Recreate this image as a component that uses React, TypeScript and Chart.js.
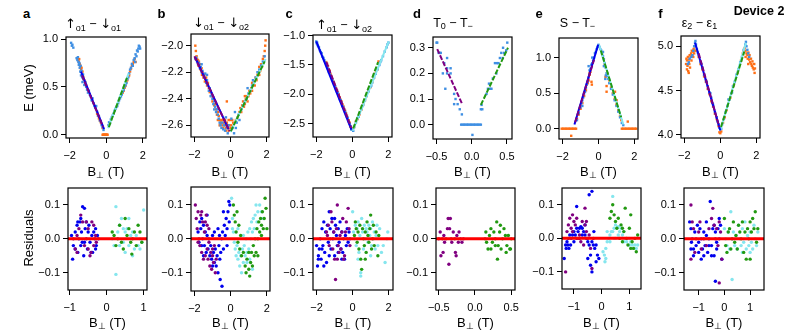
import React, { useEffect, useRef } from "react";
import { Chart, registerables } from "chart.js";
Chart.register(...registerables);

type Pt = [number, number];
const FONT = '"Liberation Sans", Arial, Helvetica, sans-serif';

// ---------- colours ----------
const COL_BLUEPT = "#3f8fe3";
const COL_ORANGE = "#ff6f15";
const COL_BLUE = "#0000ee";
const COL_PURPLE = "#800080";
const COL_GREEN = "#229911";
const COL_CYAN = "#85e6ee";
const COL_RED = "#ff0000";

// ---------- tick values ----------
const ticksBig = [-2, 0, 2];
const ticksHalf = [-0.5, 0, 0.5];
const ticksOne = [-1, 0, 1];
const ticksA_y = [0, 0.5, 1.0];
const ticksB_y = [-2.6, -2.4, -2.2, -2.0];
const ticksC_y = [-2.5, -2.0, -1.5, -1.0];
const ticksD_y = [0, 0.1, 0.2, 0.3];
const ticksE_y = [0, 0.5, 1.0];
const ticksF_y = [4.0, 4.5, 5.0];
const ticksRes_y = [-0.1, 0, 0.1];

// ---------- panel a (top) ----------
const aBlue: Pt[] = [[-1.92,0.96],[-1.88,0.93],[-1.85,0.94],[-1.8,0.91],[-1.62,0.8],[-1.58,0.78],[-1.55,0.81],[-1.52,0.76],[-1.5,0.73],[-1.47,0.75],[-1.45,0.7],[-1.42,0.66],[-1.4,0.72],[-1.38,0.62],[-1.35,0.67],[-1.32,0.6],[-1.3,0.55],[-1.27,0.63],[-1.25,0.58],[-1.2,0.52],[-1.15,0.55],[-1.1,0.5],[-1.05,0.47],[-1.0,0.44],[-0.95,0.46],[-0.9,0.42],[-0.85,0.4],[-0.8,0.36],[-0.75,0.38],[-0.7,0.33],[-0.65,0.3],[-0.6,0.28],[-0.55,0.3],[-0.5,0.24],[-0.45,0.2],[-0.4,0.19],[-0.35,0.15],[-0.3,0.14],[-0.25,0.1],[-0.2,0.08],[-0.15,0.05],[0.12,0.1],[0.15,0.13],[0.2,0.12],[0.25,0.16],[0.3,0.18],[0.35,0.2],[0.4,0.22],[0.45,0.25],[0.5,0.27],[0.55,0.29],[0.6,0.3],[0.65,0.33],[0.7,0.36],[0.75,0.38],[0.8,0.4],[0.85,0.42],[0.9,0.45],[0.95,0.47],[1.0,0.5],[1.05,0.52],[1.1,0.54],[1.15,0.58],[1.2,0.6],[1.25,0.64],[1.3,0.68],[1.35,0.7],[1.4,0.74],[1.45,0.72],[1.5,0.78],[1.55,0.8],[1.58,0.76],[1.6,0.84],[1.65,0.82],[1.68,0.88],[1.72,0.87],[1.75,0.9],[1.78,0.93],[1.82,0.92],[1.85,0.9]];
const aOrange: Pt[] = [[-1.55,0.8],[-1.52,0.78],[-1.5,0.76],[-1.48,0.79],[-1.45,0.74],[-1.42,0.72],[-1.4,0.7],[-1.38,0.68],[-1.35,0.7],[-1.3,0.66],[-1.28,0.62],[-1.25,0.6],[-1.2,0.57],[-1.15,0.55],[-1.1,0.52],[-0.5,0.22],[-0.45,0.2],[-0.4,0.17],[-0.35,0.15],[-0.3,0.13],[-0.25,0.11],[-0.2,0.07],[-0.2,0],[-0.17,0],[-0.14,0],[-0.11,0],[-0.08,0],[-0.05,0],[-0.02,0],[0.01,0],[0.04,0],[0.07,0],[0.9,0.44],[0.95,0.46],[1.0,0.49],[1.05,0.51],[1.1,0.55],[1.15,0.57],[1.2,0.61],[1.25,0.62],[1.3,0.66],[1.35,0.69],[1.4,0.72],[1.45,0.74],[1.5,0.76],[1.55,0.79],[1.6,0.76]];
const aFitBlue: Pt[] = [[-1.38,0.66],[-0.12,0.06]];
const aFitPurple: Pt[] = [[-1.33,0.62],[-0.17,0.08]];
const aFitCyan: Pt[] = [[0.1,0.07],[1.22,0.64]];
const aFitGreen: Pt[] = [[0.14,0.08],[1.16,0.61]];

// ---------- panel b (top) ----------
const bBlue: Pt[] = [[-1.95,-2.1],[-1.9,-2.09],[-1.85,-2.12],[-1.8,-2.14],[-1.75,-2.13],[-1.7,-2.17],[-1.65,-2.16],[-1.6,-2.2],[-1.55,-2.19],[-1.5,-2.22],[-1.45,-2.24],[-1.4,-2.21],[-1.35,-2.28],[-1.3,-2.26],[-1.25,-2.3],[-1.2,-2.34],[-1.15,-2.32],[-1.1,-2.38],[-1.05,-2.36],[-1.0,-2.4],[-0.95,-2.44],[-0.9,-2.42],[-0.85,-2.46],[-0.8,-2.5],[-0.75,-2.48],[-0.7,-2.52],[-0.65,-2.55],[-0.6,-2.58],[-0.55,-2.6],[-0.5,-2.62],[-0.45,-2.58],[-0.4,-2.63],[-0.35,-2.6],[-0.3,-2.64],[-0.2,-2.62],[-0.1,-2.6],[0.05,-2.55],[0.25,-2.5],[0.35,-2.58],[0.45,-2.52],[0.5,-2.56],[0.2,-2.66],[0.3,-2.62],[0.6,-2.48],[0.7,-2.45],[0.8,-2.42],[0.9,-2.4],[1.0,-2.36],[1.1,-2.34],[1.2,-2.3],[1.3,-2.28],[1.4,-2.24],[1.5,-2.2],[1.6,-2.18],[1.7,-2.15],[1.8,-2.12],[1.9,-2.08],[0.95,-2.32],[1.25,-2.26],[-1.3,-2.22],[-0.9,-2.48],[-1.6,-2.14],[-0.15,-2.66],[0.12,-2.62],[-0.25,-2.54]];
const bOrange: Pt[] = [[-1.95,-2.0],[-1.92,-2.04],[-1.88,-2.08],[-1.85,-2.1],[-1.8,-2.11],[-1.78,-2.15],[-1.75,-2.12],[-1.7,-2.14],[-1.65,-2.18],[-1.6,-2.17],[-1.58,-2.22],[-1.55,-2.2],[-1.5,-2.24],[-1.45,-2.22],[-1.42,-2.27],[-1.4,-2.25],[-1.35,-2.24],[-1.3,-2.3],[-1.25,-2.28],[-1.2,-2.32],[-1.15,-2.35],[-1.1,-2.34],[-1.05,-2.38],[-1.0,-2.42],[-0.95,-2.4],[-0.9,-2.45],[-0.85,-2.44],[-0.8,-2.48],[-0.75,-2.52],[-0.7,-2.5],[-0.65,-2.53],[-0.6,-2.56],[-0.55,-2.58],[-0.5,-2.56],[-0.45,-2.6],[-0.4,-2.62],[-0.35,-2.58],[-0.3,-2.6],[-0.25,-2.62],[-0.2,-2.42],[-0.7,-2.56],[-0.6,-2.6],[-0.5,-2.58],[-0.4,-2.56],[-0.3,-2.56],[-0.2,-2.58],[-0.1,-2.56],[0,-2.56],[0.1,-2.56],[-0.15,-2.6],[-0.05,-2.6],[0.05,-2.6],[0.15,-2.58],[-0.25,-2.64],[-0.1,-2.64],[0,-2.62],[0.3,-2.56],[0.4,-2.54],[0.5,-2.5],[0.55,-2.47],[0.6,-2.5],[0.65,-2.45],[0.7,-2.42],[0.75,-2.46],[0.8,-2.44],[0.85,-2.4],[0.9,-2.38],[0.95,-2.42],[1.0,-2.38],[1.05,-2.34],[1.1,-2.36],[1.15,-2.32],[1.2,-2.34],[1.25,-2.3],[1.3,-2.27],[1.35,-2.3],[1.4,-2.24],[1.45,-2.26],[1.5,-2.22],[1.55,-2.2],[1.6,-2.16],[1.65,-2.19],[1.7,-2.14],[1.75,-2.16],[1.8,-2.1],[1.85,-2.08],[1.9,-2.04],[1.93,-2.0],[1.95,-1.96],[1.6,-2.22],[1.2,-2.28],[0.8,-2.38]];
const bFitBlue: Pt[] = [[-1.95,-2.09],[-0.1,-2.63]];
const bFitPurple: Pt[] = [[-2.0,-2.08],[-0.05,-2.645]];
const bFitCyan: Pt[] = [[0.0,-2.65],[1.95,-2.1]];
const bFitGreen: Pt[] = [[0.02,-2.645],[1.9,-2.118]];

// ---------- panel c (top) ----------
const cBlue: Pt[] = [[-2.0,-1.1],[-1.98,-1.13],[-1.95,-1.12],[-1.92,-1.16],[-1.9,-1.18],[-1.85,-1.2],[-1.8,-1.25],[-1.75,-1.28],[-1.7,-1.3],[-1.65,-1.36],[-1.6,-1.38],[-1.55,-1.42],[-1.5,-1.46],[-1.45,-1.5],[-1.4,-1.52],[-1.35,-1.56],[-1.3,-1.62],[-1.25,-1.63],[-1.2,-1.68],[-1.15,-1.72],[-1.1,-1.76],[-1.05,-1.8],[-1.0,-1.84],[-0.95,-1.86],[-0.9,-1.92],[-0.85,-1.95],[-0.8,-1.98],[-0.75,-2.02],[-0.7,-2.08],[-0.65,-2.1],[-0.6,-2.14],[-0.55,-2.2],[-0.5,-2.22],[-0.45,-2.26],[-0.4,-2.3],[-0.35,-2.34],[-0.3,-2.38],[-0.25,-2.4],[-0.2,-2.46],[-0.15,-2.5],[-0.1,-2.54],[-0.05,-2.6],[0.05,-2.62],[0.1,-2.55],[0.2,-2.48],[0.3,-2.4],[0.4,-2.32],[0.5,-2.25],[0.6,-2.18],[0.7,-2.1],[0.8,-2.02],[0.9,-1.95],[1.0,-1.87],[1.1,-1.8],[1.2,-1.72],[1.3,-1.65],[1.4,-1.57],[1.5,-1.5],[1.6,-1.42],[1.7,-1.35],[1.8,-1.27],[1.9,-1.2],[1.95,-1.15],[2.0,-1.12],[0.35,-2.38],[0.55,-2.2],[1.05,-1.85],[1.55,-1.45]];
const cOrange: Pt[] = [[-1.45,-1.45],[-1.42,-1.5],[-1.4,-1.48],[-1.38,-1.54],[-1.35,-1.52],[-1.3,-1.6],[-1.25,-1.6],[-1.2,-1.66],[-1.15,-1.7],[-1.1,-1.75],[-1.05,-1.78],[-1.0,-1.82],[-0.95,-1.88],[-0.9,-1.9],[-0.85,-1.93],[-0.8,-1.97],[-0.75,-2.0],[-0.7,-2.05],[-0.65,-2.09],[-0.6,-2.12],[-0.55,-2.17],[-0.5,-2.2],[-0.45,-2.25],[-0.4,-2.28],[-0.35,-2.32],[-0.3,-2.36],[-0.25,-2.4],[-0.2,-2.44],[-0.15,-2.48],[-0.1,-2.55],[-0.05,-2.58],[0.1,-2.56],[0.2,-2.46],[0.3,-2.42],[0.4,-2.34],[0.5,-2.26],[0.6,-2.17],[0.7,-2.1],[0.8,-2.03],[0.9,-1.94],[1.0,-1.88],[1.1,-1.79],[1.2,-1.72],[1.3,-1.63],[1.38,-1.58],[1.45,-1.44]];
const cFitBlue: Pt[] = [[-2.0,-1.1],[-0.05,-2.6]];
const cFitPurple: Pt[] = [[-1.44,-1.45],[-0.06,-2.57]];
const cFitCyan: Pt[] = [[0.02,-2.62],[2.02,-1.1]];
const cFitGreen: Pt[] = [[0.05,-2.58],[1.43,-1.45]];

// ---------- panel d (top) ----------
const dBlue: Pt[] = [[-0.5,0.32],[-0.49,0.32],[-0.47,0.28],[-0.455,0.28],[-0.44,0.28],[-0.39,0.24],[-0.35,0.26],[-0.35,0.22],[-0.3,0.22],[-0.41,0.2],[-0.35,0.2],[-0.3,0.2],[-0.375,0.14],[-0.25,0.12],[-0.23,0.1],[-0.25,0.08],[-0.2,0.08],[-0.17,0.06],[-0.14,0.04],[-0.15,0],[-0.13,0],[-0.11,0],[-0.09,0],[-0.07,0],[-0.05,0],[-0.03,0],[-0.01,0],[0.01,0],[0.03,0],[0.05,0],[0.07,0],[0.09,0],[0.11,0],[0.13,0],[0.01,-0.04],[0.14,0.077],[0.13,0.06],[0.15,0.06],[0.21,0.12],[0.23,0.14],[0.26,0.14],[0.28,0.14],[0.245,0.16],[0.3,0.18],[0.35,0.2],[0.33,0.24],[0.36,0.24],[0.38,0.24],[0.4,0.26],[0.44,0.26],[0.42,0.28],[0.46,0.28],[0.445,0.3],[0.505,0.32],[0.49,0.29]];
const dFitPurple: Pt[] = [[-0.49,0.295],[-0.14,0.083]];
const dFitGreen: Pt[] = [[0.13,0.077],[0.515,0.3]];

// ---------- panel e (top) ----------
const eBlue: Pt[] = [[-1.2,0.12],[-1.1,0.22],[-1.0,0.3],[-0.95,0.36],[-0.9,0.4],[-0.85,0.44],[-0.8,0.5],[-0.75,0.52],[-0.7,0.58],[-0.65,0.62],[-0.6,0.66],[-0.55,0.72],[-0.5,0.82],[-0.45,0.84],[-0.4,0.9],[-0.35,0.92],[-0.3,0.96],[-0.25,1.0],[-0.2,1.06],[-0.15,1.08],[-0.1,1.12],[-0.05,1.15],[0.0,1.18],[-0.55,0.88],[-0.35,1.0],[-0.9,0.32],[0.05,1.15],[0.1,1.12],[0.15,1.1],[0.2,1.05],[0.25,1.02],[0.3,0.98],[0.3,0.88],[0.35,0.92],[0.4,0.86],[0.41,0.75],[0.38,0.7],[0.45,0.78],[0.5,0.74],[0.55,0.7],[0.6,0.64],[0.7,0.56],[0.8,0.48],[0.9,0.4],[1.0,0.32],[1.1,0.24],[1.2,0.16],[1.3,0.08],[1.38,0.05],[0.25,1.08]];
const eOrange: Pt[] = [[-2.05,0],[-1.97,0],[-1.89,0],[-1.81,0],[-1.73,0],[-1.65,0],[-1.57,0],[-1.49,0],[-1.41,0],[-1.33,0],[-1.25,0],[1.3,0],[1.38,0],[1.46,0],[1.54,0],[1.62,0],[1.7,0],[1.78,0],[1.86,0],[1.94,0],[2.02,0],[2.1,0],[-1.52,-0.1],[-0.49,0.76],[-0.39,0.66],[-0.37,0.62],[0.45,0.6],[0.45,0.52],[0.39,0.73],[1.63,0.1],[0.92,0.52],[1.01,0.4],[-1.2,0.14],[-1.1,0.2],[-1.0,0.28],[-0.9,0.36],[-0.8,0.46],[-0.7,0.54],[-0.6,0.64],[-0.55,0.68],[-0.5,0.78],[-0.45,0.8],[0.35,0.9],[0.5,0.78],[0.6,0.68],[0.7,0.58],[0.8,0.5],[0.9,0.42],[1.0,0.34],[1.1,0.26],[1.2,0.18],[1.27,0.12]];
const eFitBlue: Pt[] = [[-1.34,0.06],[-0.02,1.18]];
const eFitPurple: Pt[] = [[-1.3,0.09],[-0.25,0.97]];
const eFitCyan: Pt[] = [[0.03,1.18],[1.38,0.06]];
const eFitGreen: Pt[] = [[0.13,1.1],[1.26,0.16]];

// ---------- panel f (top) ----------
const fBlue: Pt[] = [[-1.45,5.0],[-1.4,5.04],[-1.38,5.06],[-1.35,5.02],[-1.5,4.95],[-1.55,4.9],[-1.6,4.88],[-1.7,4.86],[-1.75,4.82],[-1.8,4.8],[-1.3,4.97],[-1.25,4.93],[-1.2,4.9],[-1.1,4.82],[-1.0,4.76],[-0.9,4.68],[-0.8,4.62],[-0.7,4.55],[-0.6,4.48],[-0.5,4.42],[-0.45,4.36],[-0.4,4.34],[-0.3,4.26],[-0.2,4.2],[-0.15,4.15],[-0.1,4.12],[-0.05,4.08],[-0.75,4.6],[-0.55,4.47],[-1.05,4.8],[0.05,4.07],[0.1,4.12],[0.2,4.18],[0.3,4.26],[0.4,4.33],[0.5,4.4],[0.6,4.47],[0.7,4.55],[0.8,4.6],[0.9,4.68],[1.0,4.74],[1.1,4.82],[1.2,4.88],[1.3,4.96],[1.38,5.02],[1.42,5.05],[1.45,5.0],[1.5,4.96],[1.55,4.92],[1.6,4.88],[0.45,4.4],[0.65,4.48]];
const fOrange: Pt[] = [[-1.9,4.8],[-1.88,4.86],[-1.85,4.84],[-1.82,4.78],[-1.8,4.88],[-1.78,4.72],[-1.75,4.85],[-1.72,4.8],[-1.7,4.9],[-1.68,4.76],[-1.65,4.88],[-1.62,4.92],[-1.6,4.84],[-1.58,4.95],[-1.55,4.9],[-1.52,4.94],[-1.5,4.88],[-1.48,4.97],[-1.45,4.92],[-1.42,5.0],[-1.4,4.95],[-1.85,4.74],[-1.75,4.7],[-1.3,4.95],[-1.2,4.88],[-1.1,4.8],[-1.0,4.74],[-0.9,4.66],[-0.8,4.6],[-0.7,4.52],[-0.6,4.46],[-0.5,4.38],[-0.4,4.32],[-0.3,4.24],[-0.2,4.18],[-0.1,4.1],[-0.05,4.03],[0.0,4.02],[0.05,4.04],[0.15,4.14],[0.25,4.2],[0.35,4.28],[0.55,4.42],[0.75,4.56],[0.95,4.7],[1.15,4.84],[1.25,4.92],[1.3,4.95],[1.35,4.98],[1.4,4.95],[1.45,4.92],[1.5,4.9],[1.52,4.86],[1.55,4.93],[1.6,4.85],[1.62,4.9],[1.65,4.82],[1.7,4.86],[1.72,4.8],[1.75,4.78],[1.78,4.83],[1.8,4.76],[1.85,4.74],[1.88,4.8],[1.9,4.7],[1.92,4.75],[1.55,4.8],[1.4,4.88]];
const fFitBlue: Pt[] = [[-1.4,5.04],[0,4.05]];
const fFitPurple: Pt[] = [[-1.2,4.92],[-0.06,4.09]];
const fFitCyan: Pt[] = [[0.0,4.05],[1.42,5.04]];
const fFitGreen: Pt[] = [[0.04,4.09],[1.33,4.94]];

// ---------- residuals ----------
const raBlue: Pt[] = [[-0.95,0.01],[-0.9,-0.02],[-0.92,-0.06],[-0.85,0.02],[-0.8,0.04],[-0.78,-0.04],[-0.75,0.0],[-0.72,0.05],[-0.7,-0.02],[-0.68,0.02],[-0.65,0.095],[-0.6,0.09],[-0.62,-0.05],[-0.58,0.03],[-0.55,0.0],[-0.52,-0.03],[-0.5,0.02],[-0.48,0.04],[-0.45,-0.01],[-0.4,0.01],[-0.38,-0.04],[-0.35,0.02],[-0.32,0.0],[-0.3,0.03],[-0.28,-0.02],[-0.25,0.01],[-0.22,0.0],[-0.85,-0.03],[-0.78,0.05],[-0.7,0.06],[-0.66,-0.01],[-0.6,-0.01],[-0.55,0.05],[-0.42,-0.04],[-0.3,-0.03]];
const raPurple: Pt[] = [[-0.9,0.0],[-0.85,-0.03],[-0.8,0.01],[-0.75,0.03],[-0.7,0.07],[-0.65,0.05],[-0.6,-0.02],[-0.55,0.05],[-0.5,0.03],[-0.45,-0.05],[-0.42,-0.04],[-0.4,0.05],[-0.35,-0.02],[-0.3,0.01],[-0.5,-0.03],[-0.8,-0.04],[-0.35,0.04],[-0.28,-0.01]];
const raCyan: Pt[] = [[0.25,0.095],[0.25,-0.105],[0.15,0.0],[0.2,-0.02],[0.3,0.02],[0.35,0.04],[0.4,0.06],[0.45,-0.01],[0.5,0.02],[0.55,0.03],[0.6,-0.02],[0.65,0.01],[0.7,-0.05],[0.75,-0.03],[0.8,0.01],[0.85,-0.02],[0.9,0.0],[0.95,-0.01],[1.0,0.085],[0.6,0.06],[0.5,-0.04],[0.35,-0.02],[0.7,0.02],[0.9,-0.03],[0.45,0.03]];
const raGreen: Pt[] = [[0.15,0.02],[0.2,0.01],[0.25,-0.02],[0.3,0.0],[0.35,0.04],[0.4,-0.01],[0.5,0.06],[0.55,0.01],[0.6,0.03],[0.65,-0.01],[0.7,0.0],[0.75,0.02],[0.8,-0.02],[0.85,0.04],[0.9,0.02],[0.95,-0.01],[0.68,-0.045],[0.45,-0.03]];

const rbBlue: Pt[] = [[-1.8,0.02],[-1.75,-0.01],[-1.7,0.05],[-1.65,0.03],[-1.6,0.06],[-1.55,0.0],[-1.5,0.04],[-1.45,-0.02],[-1.4,0.02],[-1.35,-0.04],[-1.3,0.01],[-1.25,-0.03],[-1.2,0.0],[-1.15,-0.05],[-1.1,-0.02],[-1.05,-0.06],[-1.0,0.01],[-0.95,-0.04],[-0.9,-0.07],[-0.85,-0.03],[-0.8,-0.08],[-0.75,-0.05],[-0.7,-0.1],[-0.65,-0.02],[-0.6,-0.06],[-0.58,-0.12],[-0.55,-0.04],[-0.5,0.0],[-0.48,-0.14],[-0.45,0.02],[-0.4,-0.03],[-0.35,0.04],[-0.3,0.01],[-0.25,0.06],[-0.2,0.03],[-0.15,0.08],[-0.1,0.11],[-0.08,0.05],[-0.05,0.1],[-1.5,-0.05],[-1.3,0.07],[-1.0,-0.08],[-0.7,0.03],[-0.4,0.08],[-0.9,0.02],[-1.6,-0.02],[-0.2,-0.02],[-0.62,0.01]];
const rbPurple: Pt[] = [[-1.95,0.1],[-1.9,0.06],[-1.85,0.03],[-1.8,0.08],[-1.75,0.0],[-1.7,-0.02],[-1.65,0.07],[-1.6,-0.04],[-1.55,0.05],[-1.5,-0.06],[-1.45,0.02],[-1.4,-0.05],[-1.35,0.07],[-1.3,-0.03],[-1.25,-0.06],[-1.2,0.03],[-1.15,-0.08],[-1.1,-0.04],[-1.05,-0.09],[-1.0,-0.05],[-0.95,-0.07],[-0.9,-0.02],[-0.85,-0.1],[-0.8,-0.06],[-1.6,0.08],[-1.4,0.05],[-1.2,-0.01],[-1.0,-0.03],[-1.8,-0.01],[-1.3,0.04]];
const rbCyan: Pt[] = [[0.05,0.12],[0.1,0.06],[0.15,0.02],[0.2,-0.01],[0.25,-0.03],[0.3,-0.05],[0.35,-0.02],[0.4,-0.06],[0.45,-0.04],[0.5,-0.08],[0.55,-0.05],[0.6,-0.1],[0.65,-0.03],[0.7,-0.07],[0.75,-0.02],[0.8,-0.05],[0.85,0.0],[0.9,-0.04],[0.95,0.02],[1.0,-0.03],[1.05,0.03],[1.1,0.0],[1.15,0.05],[1.2,0.02],[1.25,0.06],[1.3,0.03],[1.35,0.07],[1.4,0.1],[1.45,0.05],[1.5,0.08],[1.6,0.1],[1.7,0.08],[1.8,0.06],[1.2,-0.09],[0.9,-0.07],[0.4,0.03],[0.1,0.03],[1.05,-0.06],[0.7,0.01]];
const rbGreen: Pt[] = [[0.15,0.1],[0.2,0.07],[0.25,0.05],[0.3,0.02],[0.35,0.08],[0.4,-0.01],[0.45,0.04],[0.5,-0.03],[0.55,0.01],[0.6,-0.05],[0.7,-0.04],[0.8,-0.08],[0.85,-0.1],[0.9,-0.06],[1.0,-0.09],[1.05,-0.11],[1.1,-0.07],[1.15,-0.04],[1.2,-0.08],[1.25,-0.02],[1.3,-0.05],[1.35,0.0],[1.4,-0.04],[1.45,0.03],[1.5,0.0],[1.55,0.05],[1.6,0.02],[1.65,0.06],[1.7,0.04],[1.75,0.08],[1.8,0.03],[1.85,0.06],[1.9,0.12],[1.95,0.09],[2.0,0.03],[1.7,0.01],[1.5,-0.05],[1.0,-0.04]];

const rcBlue: Pt[] = [[-2.0,-0.02],[-1.95,-0.08],[-1.9,-0.05],[-1.85,-0.03],[-1.8,0.0],[-1.75,-0.06],[-1.7,0.03],[-1.65,-0.02],[-1.6,0.05],[-1.55,-0.04],[-1.5,0.02],[-1.45,-0.07],[-1.4,0.04],[-1.35,-0.01],[-1.3,0.08],[-1.25,0.03],[-1.2,-0.03],[-1.15,0.06],[-1.1,0.0],[-1.05,0.02],[-1.0,-0.05],[-0.95,0.04],[-0.9,0.01],[-0.85,-0.02],[-0.8,0.03],[-0.75,-0.01],[-0.7,0.05],[-0.65,-0.03],[-0.6,0.02],[-0.55,-0.04],[-0.5,0.0],[-0.45,-0.06],[-0.4,0.01],[-0.35,-0.02],[-0.3,0.03],[-0.25,-0.01],[-0.2,0.02],[-0.15,0.0],[-1.9,-0.06],[-1.6,-0.08],[-1.3,-0.05],[-1.0,0.06],[-0.8,-0.04],[-0.6,-0.06],[-1.7,-0.03]];
const rcPurple: Pt[] = [[-1.45,0.02],[-1.4,0.01],[-1.35,0.04],[-1.3,-0.02],[-1.25,0.0],[-1.2,0.08],[-1.15,0.05],[-1.1,-0.03],[-1.05,0.02],[-1.0,-0.06],[-0.95,-0.12],[-0.9,0.03],[-0.85,0.1],[-0.8,-0.02],[-0.75,-0.04],[-0.7,0.01],[-0.65,-0.03],[-0.6,0.02],[-0.5,-0.06],[-0.45,-0.05],[-0.4,0.02],[-0.35,0.05],[-0.3,0.0],[-0.25,0.09],[-0.2,0.03],[-0.15,-0.02],[-0.55,0.06],[-0.85,-0.06]];
const rcCyan: Pt[] = [[0.0,0.08],[0.05,0.02],[0.1,0.0],[0.15,0.04],[0.2,-0.02],[0.25,0.03],[0.3,0.05],[0.35,-0.04],[0.4,0.01],[0.45,-0.1],[0.45,-0.11],[0.5,0.06],[0.55,0.02],[0.6,-0.03],[0.65,0.04],[0.7,0.0],[0.75,0.03],[0.8,0.02],[0.85,-0.01],[0.9,0.04],[0.95,0.01],[1.0,0.03],[1.05,-0.02],[1.1,0.05],[1.15,0.0],[1.2,0.02],[1.25,-0.03],[1.3,0.01],[1.35,0.04],[1.4,-0.02],[1.5,0.03],[1.6,-0.04],[1.7,-0.02],[1.8,-0.07],[1.9,0.0],[1.95,0.02],[0.3,-0.06],[1.0,-0.05]];
const rcGreen: Pt[] = [[0.1,0.01],[0.15,0.05],[0.2,0.03],[0.25,-0.01],[0.3,0.02],[0.35,-0.03],[0.4,0.04],[0.45,-0.06],[0.5,-0.09],[0.55,0.03],[0.6,0.0],[0.65,-0.02],[0.7,0.02],[0.75,-0.04],[0.8,0.05],[0.85,0.01],[0.9,-0.01],[0.95,0.03],[1.0,0.07],[1.05,-0.03],[1.1,0.0],[1.15,0.04],[1.2,-0.02],[1.3,0.02],[1.4,-0.05],[1.45,0.01],[0.7,-0.06]];

const rdPurple: Pt[] = [[-0.5,0.0],[-0.48,0.02],[-0.47,-0.05],[-0.45,0.0],[-0.43,0.01],[-0.42,-0.01],[-0.4,0.0],[-0.38,0.03],[-0.37,0.06],[-0.36,-0.075],[-0.35,0.03],[-0.34,0.06],[-0.33,0.0],[-0.32,-0.01],[-0.3,0.02],[-0.28,0.0],[-0.27,-0.04],[-0.26,-0.05],[-0.25,0.01],[-0.23,-0.01],[-0.22,0.02],[-0.2,0.0],[-0.18,-0.01],[-0.16,0.0],[-0.44,-0.04]];
const rdGreen: Pt[] = [[0.14,0.0],[0.15,0.02],[0.16,-0.01],[0.18,-0.03],[0.2,0.01],[0.22,0.03],[0.24,-0.01],[0.26,0.02],[0.28,0.0],[0.3,0.05],[0.31,-0.06],[0.32,-0.02],[0.34,0.02],[0.35,0.04],[0.36,-0.03],[0.38,0.0],[0.4,0.03],[0.42,0.01],[0.43,-0.04],[0.44,-0.02],[0.46,0.01],[0.48,-0.03],[0.49,-0.03],[0.5,0.0],[0.28,-0.02],[0.22,-0.03]];

const reBlue: Pt[] = [[-1.35,-0.06],[-1.3,-0.02],[-1.28,-0.03],[-1.25,-0.01],[-1.22,-0.02],[-1.2,0.0],[-1.18,-0.03],[-1.15,0.01],[-1.12,-0.02],[-1.1,0.0],[-1.05,0.01],[-1.0,0.02],[-0.95,0.01],[-0.9,0.03],[-0.85,0.02],[-0.8,0.03],[-0.75,0.035],[-0.7,0.03],[-0.65,0.02],[-0.6,0.01],[-0.55,0.0],[-0.5,-0.01],[-0.45,-0.02],[-0.4,-0.05],[-0.35,-0.01],[-0.3,-0.02],[-0.25,-0.03],[-0.2,-0.02],[-0.15,-0.05],[-0.1,-0.06],[-0.45,0.13],[-0.35,0.14],[-0.9,0.095],[-0.5,-0.06],[-0.4,-0.08],[-0.35,-0.1],[-0.8,0.0],[-0.7,0.01],[-1.0,-0.01],[-0.9,0.0],[-0.6,0.04],[-0.28,0.02],[-0.2,-0.07]];
const rePurple: Pt[] = [[-1.3,-0.1],[-1.25,0.02],[-1.2,0.04],[-1.15,0.06],[-1.1,0.03],[-1.05,0.07],[-1.0,0.05],[-0.95,0.04],[-0.9,0.06],[-0.85,0.0],[-0.8,0.01],[-0.75,-0.01],[-0.7,0.05],[-0.65,-0.02],[-0.6,0.04],[-0.55,0.02],[-0.5,0.0],[-0.45,0.01],[-0.4,-0.03],[-0.35,-0.09],[-0.6,0.09],[-0.55,0.05],[-1.05,0.02],[-0.3,0.0]];
const reCyan: Pt[] = [[0.05,-0.04],[0.1,-0.05],[0.12,-0.07],[0.15,-0.03],[0.2,-0.01],[0.25,0.0],[0.3,0.01],[0.35,0.02],[0.4,0.125],[0.4,0.02],[0.45,0.03],[0.5,0.04],[0.55,0.03],[0.6,0.035],[0.65,0.02],[0.7,0.03],[0.75,0.01],[0.8,0.02],[0.85,0.0],[0.9,-0.01],[0.95,0.0],[1.0,-0.02],[1.05,-0.01],[1.1,-0.02],[1.15,-0.03],[1.2,-0.02],[1.25,-0.03],[1.3,-0.02],[0.2,0.02],[0.3,-0.01],[0.5,0.0],[0.6,0.01],[0.8,-0.01],[1.0,0.0],[0.15,-0.06],[0.45,0.0]];
const reGreen: Pt[] = [[0.3,0.06],[0.35,0.08],[0.4,0.1],[0.45,0.07],[0.5,0.05],[0.55,0.03],[0.6,0.06],[0.65,0.0],[0.7,0.04],[0.75,-0.01],[0.8,0.02],[0.85,0.09],[0.9,0.0],[0.95,-0.02],[1.0,0.03],[1.05,0.07],[1.1,-0.01],[1.15,-0.03],[1.2,0.0],[1.25,-0.04],[1.3,0.01],[0.75,0.03],[1.05,-0.03]];

const rfBlue: Pt[] = [[-1.35,0.05],[-1.3,0.03],[-1.28,-0.01],[-1.25,0.0],[-1.2,-0.03],[-1.15,0.02],[-1.1,-0.02],[-1.05,0.04],[-1.0,-0.01],[-0.95,0.03],[-0.9,0.0],[-0.85,-0.03],[-0.8,0.02],[-0.75,-0.02],[-0.7,0.01],[-0.65,-0.04],[-0.6,0.0],[-0.55,0.11],[-0.5,-0.02],[-0.45,0.03],[-0.4,-0.05],[-0.35,0.02],[-0.3,-0.01],[-0.25,0.03],[-0.2,0.0],[-0.15,0.04],[-0.1,-0.06],[-0.35,-0.125],[-1.2,-0.05],[-1.0,-0.04],[-0.8,-0.05],[-0.6,-0.02],[-0.4,0.04],[-0.2,0.06],[-0.5,-0.05],[-0.7,0.05],[-0.9,-0.06],[-1.3,-0.03],[-0.3,-0.03]];
const rfPurple: Pt[] = [[-1.3,0.1],[-1.3,-0.06],[-1.25,0.05],[-1.2,0.03],[-1.15,-0.04],[-1.1,0.0],[-1.0,0.02],[-0.9,-0.03],[-0.8,0.0],[-0.7,-0.02],[-0.6,0.03],[-0.5,0.06],[-0.45,0.09],[-0.4,0.04],[-0.3,0.03],[-0.25,-0.02],[-0.2,0.05],[-0.15,0.02],[-0.1,-0.06],[-0.2,-0.13],[-0.35,0.0],[-0.95,0.05]];
const rfCyan: Pt[] = [[0.0,0.03],[0.05,0.0],[0.1,-0.02],[0.15,0.02],[0.2,-0.03],[0.25,0.08],[0.3,-0.12],[0.3,0.0],[0.35,0.02],[0.4,-0.02],[0.45,0.01],[0.5,-0.03],[0.55,0.04],[0.6,0.0],[0.65,-0.02],[0.7,0.03],[0.75,-0.01],[0.8,0.05],[0.85,-0.03],[0.9,0.01],[0.95,-0.02],[1.0,0.02],[1.05,-0.01],[1.1,-0.03],[1.15,0.04],[1.2,0.0],[1.25,-0.02],[1.3,0.02],[0.7,-0.04],[1.0,-0.04]];
const rfGreen: Pt[] = [[0.0,0.06],[0.05,-0.02],[0.1,-0.04],[0.15,0.02],[0.2,0.03],[0.25,-0.03],[0.3,0.0],[0.35,0.05],[0.4,-0.01],[0.45,0.01],[0.5,-0.03],[0.55,0.04],[0.6,0.02],[0.65,0.0],[0.7,0.05],[0.75,-0.04],[0.8,0.02],[0.85,-0.06],[0.9,0.03],[0.95,0.0],[1.0,-0.06],[1.05,0.02],[1.1,0.06],[1.15,0.03],[1.2,0.08],[1.25,-0.01],[1.3,0.03],[1.0,0.05]];

// ---------- helpers ----------
const toXY = (d: Pt[]) => d.map(([x, y]) => ({ x, y }));
const pts = (d: Pt[], color: string, order: number) => ({
  data: toXY(d), backgroundColor: color, borderWidth: 0, pointRadius: 1.7,
  pointStyle: "rect", order, showLine: false,
});
const dots = (d: Pt[], color: string, order: number) => ({
  data: toXY(d), backgroundColor: color, borderWidth: 0, pointRadius: 1.7,
  pointStyle: "circle", order, showLine: false,
});
const fit = (d: Pt[], color: string, dashed: boolean, order: number) => ({
  data: toXY(d), borderColor: color, backgroundColor: color, borderWidth: 2,
  borderDash: dashed ? [5, 1.8] : [], pointRadius: 0, showLine: true, order,
});
const zero = (x0: number, x1: number) => ({
  data: [{ x: x0, y: 0 }, { x: x1, y: 0 }], borderColor: COL_RED, borderWidth: 3,
  pointRadius: 0, showLine: true, order: 0,
});
const topSets = (blue: Pt[], orange: Pt[], fb: Pt[] | null, fp: Pt[], fc: Pt[] | null, fg: Pt[]) => {
  const s: any[] = [fit(fp, COL_PURPLE, true, 0), fit(fg, COL_GREEN, true, 0)];
  if (fb) s.push(fit(fb, COL_BLUE, false, 1));
  if (fc) s.push(fit(fc, COL_CYAN, false, 1));
  s.push(pts(blue, COL_BLUEPT, 2));
  if (orange.length) s.push(pts(orange, COL_ORANGE, 3));
  return s;
};
const resSets = (x0: number, x1: number, b: Pt[], p: Pt[], c: Pt[], g: Pt[]) => {
  const s: any[] = [zero(x0, x1)];
  if (g.length) s.push(dots(g, COL_GREEN, 2));
  if (c.length) s.push(dots(c, COL_CYAN, 3));
  if (p.length) s.push(dots(p, COL_PURPLE, 4));
  if (b.length) s.push(dots(b, COL_BLUE, 5));
  return s;
};

const fmt = (v: number, d: number) => {
  const s = Math.abs(v) < 1e-9 ? (0).toFixed(d) : v.toFixed(d);
  return s.replace("-", "\u2212");
};

const frame = {
  id: "frame",
  afterDatasetsDraw(chart: any) {
    const { ctx, chartArea: a } = chart;
    ctx.save();
    ctx.strokeStyle = "#000";
    ctx.lineWidth = 1.2;
    ctx.strokeRect(a.left, a.top, a.right - a.left, a.bottom - a.top);
    ctx.restore();
  },
};

interface Spec {
  box: [number, number, number, number];
  xr: [number, number]; yr: [number, number];
  xt: number[]; yt: number[]; xd: number; yd: number;
  sets: any[];
}

const YW = 44, XH = 30, PT = 12, PR = 14;

function Panel({ s }: { s: Spec }) {
  const ref = useRef<HTMLCanvasElement>(null);
  const [l, t, w, h] = s.box;
  useEffect(() => {
    const tickFont = { family: FONT, size: 11 };
    const grid = { display: true, drawOnChartArea: false, drawTicks: true, tickLength: 5, color: "#000", lineWidth: 1 };
    const chart = new Chart(ref.current as HTMLCanvasElement, {
      type: "scatter",
      data: { datasets: s.sets },
      options: {
        animation: false, responsive: false, maintainAspectRatio: false,
        layout: { padding: { top: PT, right: PR, left: 0, bottom: 0 } },
        plugins: { legend: { display: false }, tooltip: { enabled: false } },
        scales: {
          x: {
            type: "linear", min: s.xr[0], max: s.xr[1],
            afterBuildTicks: (sc: any) => { sc.ticks = s.xt.map((v) => ({ value: v })); },
            afterFit: (sc: any) => { sc.height = XH; },
            grid, border: { display: false },
            ticks: { color: "#000", font: tickFont, padding: 6, maxRotation: 0, autoSkip: false,
              callback: (v: any) => fmt(Number(v), s.xd) },
          },
          y: {
            type: "linear", min: s.yr[0], max: s.yr[1],
            afterBuildTicks: (sc: any) => { sc.ticks = s.yt.map((v) => ({ value: v })); },
            afterFit: (sc: any) => { sc.width = YW; },
            grid, border: { display: false },
            ticks: { color: "#000", font: tickFont, padding: 3, autoSkip: false,
              callback: (v: any) => fmt(Number(v), s.yd) },
          },
        },
      } as any,
      plugins: [frame],
    });
    return () => chart.destroy();
  }, []);
  return (
    <canvas ref={ref} width={YW + w + PR} height={PT + h + XH}
      style={{ position: "absolute", left: l - YW, top: t - PT }} />
  );
}

const specs: Spec[] = [
  { box: [66, 37, 80, 101], xr: [-2.2, 2.17], yr: [-0.034, 1.021], xt: ticksBig, yt: ticksA_y, xd: 0, yd: 1,
    sets: topSets(aBlue, aOrange, aFitBlue, aFitPurple, aFitCyan, aFitGreen) },
  { box: [191, 34, 78, 103], xr: [-2.19, 2.14], yr: [-2.688, -1.912], xt: ticksBig, yt: ticksB_y, xd: 0, yd: 1,
    sets: topSets(bBlue, bOrange, bFitBlue, bFitPurple, bFitCyan, bFitGreen) },
  { box: [313, 35, 79, 102], xr: [-2.18, 2.2], yr: [-2.725, -0.99], xt: ticksBig, yt: ticksC_y, xd: 0, yd: 1,
    sets: topSets(cBlue, cOrange, cFitBlue, cFitPurple, cFitCyan, cFitGreen) },
  { box: [433, 37, 79, 102], xr: [-0.55, 0.572], yr: [-0.056, 0.342], xt: ticksHalf, yt: ticksD_y, xd: 1, yd: 1,
    sets: topSets(dBlue, [], null, dFitPurple, null, dFitGreen) },
  { box: [559, 38, 79, 101], xr: [-2.2, 2.2], yr: [-0.145, 1.276], xt: ticksBig, yt: ticksE_y, xd: 0, yd: 1,
    sets: topSets(eBlue, eOrange, eFitBlue, eFitPurple, eFitCyan, eFitGreen) },
  { box: [681, 36, 79, 102], xr: [-2.18, 2.2], yr: [3.966, 5.116], xt: ticksBig, yt: ticksF_y, xd: 0, yd: 1,
    sets: topSets(fBlue, fOrange, fFitBlue, fFitPurple, fFitCyan, fFitGreen) },

  { box: [68, 188, 79, 102], xr: [-1.045, 1.09], yr: [-0.151, 0.15], xt: ticksOne, yt: ticksRes_y, xd: 0, yd: 1,
    sets: resSets(-1.045, 1.09, raBlue, raPurple, raCyan, raGreen) },
  { box: [191, 187, 79, 104], xr: [-2.19, 2.17], yr: [-0.154, 0.153], xt: ticksBig, yt: ticksRes_y, xd: 0, yd: 1,
    sets: resSets(-2.19, 2.17, rbBlue, rbPurple, rbCyan, rbGreen) },
  { box: [313, 188, 80, 102], xr: [-2.2, 2.24], yr: [-0.151, 0.15], xt: ticksBig, yt: ticksRes_y, xd: 0, yd: 1,
    sets: resSets(-2.2, 2.24, rcBlue, rcPurple, rcCyan, rcGreen) },
  { box: [436, 188, 79, 102], xr: [-0.538, 0.552], yr: [-0.151, 0.15], xt: ticksHalf, yt: ticksRes_y, xd: 1, yd: 1,
    sets: resSets(-0.538, 0.552, [], rdPurple, [], rdGreen) },
  { box: [562, 188, 79, 101], xr: [-1.43, 1.42], yr: [-0.151, 0.15], xt: ticksOne, yt: ticksRes_y, xd: 0, yd: 1,
    sets: resSets(-1.43, 1.42, reBlue, rePurple, reCyan, reGreen) },
  { box: [684, 188, 80, 102], xr: [-1.57, 1.54], yr: [-0.151, 0.15], xt: ticksOne, yt: ticksRes_y, xd: 0, yd: 1,
    sets: resSets(-1.57, 1.54, rfBlue, rfPurple, rfCyan, rfGreen) },
];

function T({ x, y, size = 13, bold = false, rot = false, children }: any) {
  return (
    <div style={{
      position: "absolute", left: x, top: y, whiteSpace: "nowrap", lineHeight: 1,
      fontSize: size, fontWeight: bold ? "bold" : "normal", color: "#000",
      transform: `translate(-50%, -50%)${rot ? " rotate(-90deg)" : ""}`,
    }}>{children}</div>
  );
}
const subS = { fontSize: "0.72em", verticalAlign: "-0.25em" } as const;
const arrS = { fontFamily: '"DejaVu Sans", sans-serif', fontSize: "1.05em" } as const;
const Up = () => <span style={arrS}>↑</span>;
const Dn = () => <span style={arrS}>↓</span>;
const Bperp = () => (<span>B<span style={subS}>⊥</span> (T)</span>);

export default function App() {
  const topLabels = [106, 230, 352.5, 472.5, 598.5, 720.5];
  const botLabels = [107.5, 230.5, 353, 475.5, 601.5, 724];
  return (
    <div style={{ position: "fixed", left: 0, top: 0, width: 793, height: 333, background: "#fff",
      fontFamily: FONT, overflow: "hidden" }}>
      {specs.map((s, i) => <Panel key={i} s={s} />)}
      <T x={26.5} y={13} bold size={13}>a</T>
      <T x={161.5} y={13} bold size={13}>b</T>
      <T x={289} y={13} bold size={13}>c</T>
      <T x={417} y={13} bold size={13}>d</T>
      <T x={539} y={13} bold size={13}>e</T>
      <T x={660.5} y={13} bold size={13}>f</T>
      <T x={759} y={11} bold size={12.5}>Device 2</T>
      <T x={93} y={25} size={12.5}><Up /><span style={subS}>o1</span> − <Dn /><span style={subS}>o1</span></T>
      <T x={221} y={24} size={12.5}><Dn /><span style={subS}>o1</span> − <Dn /><span style={subS}>o2</span></T>
      <T x={344} y={26} size={12.5}><Up /><span style={subS}>o1</span> − <Dn /><span style={subS}>o2</span></T>
      <T x={453} y={24} size={12.5}>T<span style={subS}>0</span> − T<span style={subS}>−</span></T>
      <T x={577.5} y={24} size={12.5}>S − T<span style={subS}>−</span></T>
      <T x={699.5} y={24} size={12.5}>ε<span style={subS}>2</span> − ε<span style={subS}>1</span></T>
      <T x={27.5} y={88} rot size={13}>E (meV)</T>
      <T x={28} y={238} rot size={13}>Residuals</T>
      {topLabels.map((x, i) => <T key={"t" + i} x={x} y={173} size={13}><Bperp /></T>)}
      {botLabels.map((x, i) => <T key={"b" + i} x={x} y={324} size={13}><Bperp /></T>)}
    </div>
  );
}
